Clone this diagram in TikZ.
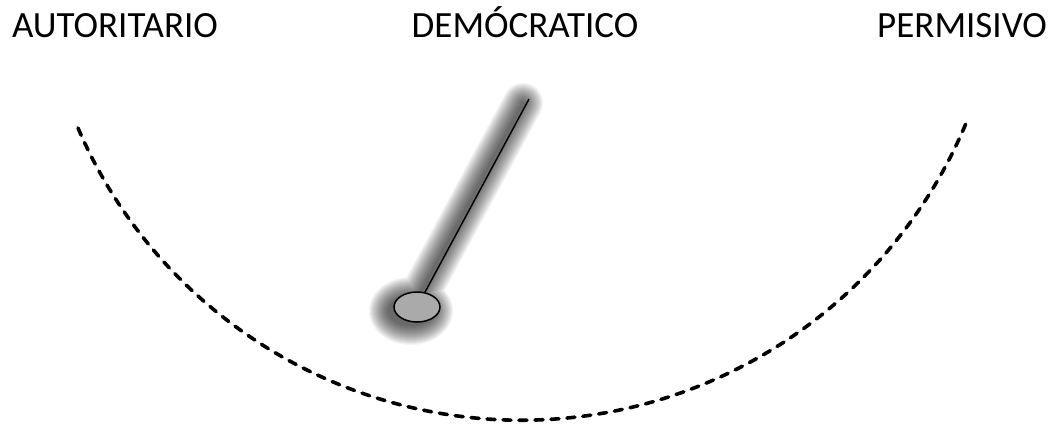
\documentclass[tikz,border=0pt]{standalone}
\usepackage{fontspec}
\setmainfont{Carlito}
\usetikzlibrary{shapes.geometric}
\definecolor{bobgray}{RGB}{170,170,170}
\tikzset{
  label/.style={anchor=base, inner sep=0pt, font=\fontsize{37}{44}\selectfont},
  track/.style={line width=3.6pt, dash pattern=on 8pt off 8pt, line cap=round},
  bobstyle/.style={ellipse, draw, line width=1.5pt, fill=bobgray, minimum width=46pt, minimum height=30pt, inner sep=0pt},
  rod/.style={line width=1.5pt},
}
\begin{document}
\begin{tikzpicture}[x=1pt,y=-1pt]
\path[use as bounding box] (0,0) rectangle (1054,423);
% labels
\node[label] (aut) at (115,37) {AUTORITARIO};
\node[label] (dem) at (525,37) {DEMÓCRATICO};
\node[label] (per) at (962,37) {PERMISIVO};
% dashed arc
\coordinate (arcL) at (78,128);
\draw[track] (arcL) arc[start angle=156.8, end angle=22.5, radius=482];
% soft shadow
\coordinate (shtop) at (523,103);
\coordinate (shbob) at (411,311);
\foreach \i in {1,...,20}{
  \pgfmathsetmacro{\lw}{2*\i}
  \pgfmathsetmacro{\rx}{22+\i}
  \pgfmathsetmacro{\ry}{14+\i}
  \begin{scope}[transparency group, opacity=0.045]
    \draw[line width=\lw pt, line cap=round, black] (shtop) -- (shbob);
    \fill[black] (shbob) ellipse[x radius=\rx, y radius=\ry];
  \end{scope}
}
% pendulum
\node[bobstyle] (bob) at (417,307) {};
\coordinate (top) at (529,99);
\draw[rod] (bob) -- (top);
\end{tikzpicture}
\end{document}
